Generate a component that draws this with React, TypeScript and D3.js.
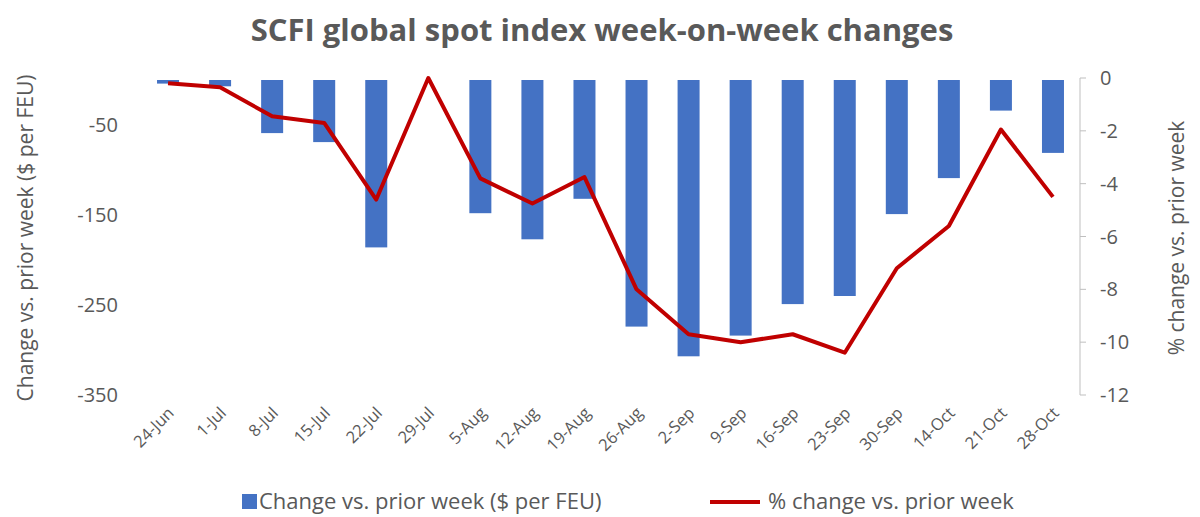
import * as d3 from 'd3';
import React, { useEffect, useRef } from 'react';

const weeks = ['24-Jun', '1-Jul', '8-Jul', '15-Jul', '22-Jul', '29-Jul', '5-Aug', '12-Aug', '19-Aug', '26-Aug', '2-Sep', '9-Sep', '16-Sep', '23-Sep', '30-Sep', '14-Oct', '21-Oct', '28-Oct'];
const changeUsd = [-4, -7, -59, -69, -186, 0, -148, -177, -132, -274, -307, -284, -249, -240, -149, -109, -34, -81];
const changePct = [-0.2, -0.35, -1.45, -1.7, -4.6, 0, -3.8, -4.75, -3.75, -8.0, -9.7, -10.0, -9.7, -10.4, -7.2, -5.6, -1.95, -4.5];
const leftTicks = [-50, -150, -250, -350];
const rightTicks = [0, -2, -4, -6, -8, -10, -12];

const W = 1200;
const H = 517;
const font = '"Open Sans", "Liberation Sans", sans-serif';
const textColor = '#595959';

const App = (): React.JSX.Element => {
  const ref = useRef<SVGSVGElement | null>(null);

  useEffect(() => {
    if (ref.current === null) return;
    const svg = d3.select(ref.current);
    svg.selectAll('*').remove();

    const x = d3.scaleBand().domain(weeks).range([142, 1079]);
    const yL = d3.scaleLinear().domain([-350, 0]).range([395, 80]);
    const yR = d3.scaleLinear().domain([-12, 0]).range([395, 78]);

    svg.append('text')
      .attr('x', 602).attr('y', 41).attr('text-anchor', 'middle')
      .attr('font-family', font).attr('font-size', 31).attr('font-weight', 'bold')
      .attr('fill', textColor).text('SCFI global spot index week-on-week changes');

    // bars
    svg.append('g').selectAll('rect').data(changeUsd).enter().append('rect')
      .attr('x', (_, i) => (x(weeks[i]) ?? 0) + x.bandwidth() / 2 - 11)
      .attr('y', yL(0))
      .attr('width', 22)
      .attr('height', d => yL(d) - yL(0))
      .attr('fill', '#4472C4');

    // line
    const line = d3.line<number>()
      .x((_, i) => (x(weeks[i]) ?? 0) + x.bandwidth() / 2)
      .y(d => yR(d));
    svg.append('path').datum(changePct)
      .attr('d', line).attr('fill', 'none')
      .attr('stroke', '#C00000').attr('stroke-width', 4).attr('stroke-linejoin', 'round');

    // left axis labels
    svg.append('g').selectAll('text').data(leftTicks).enter().append('text')
      .attr('x', 118).attr('y', d => yL(d) + 7).attr('text-anchor', 'end')
      .attr('font-family', font).attr('font-size', 20).attr('fill', textColor)
      .text(d => d);

    // right axis
    const gR = svg.append('g');
    gR.append('line').attr('x1', 1080).attr('x2', 1080).attr('y1', yR(0)).attr('y2', yR(-12))
      .attr('stroke', '#bfbfbf');
    gR.selectAll('line.t').data(rightTicks).enter().append('line').attr('class', 't')
      .attr('x1', 1080).attr('x2', 1086).attr('y1', d => yR(d)).attr('y2', d => yR(d))
      .attr('stroke', '#bfbfbf');
    gR.selectAll('text').data(rightTicks).enter().append('text')
      .attr('x', 1100).attr('y', d => yR(d) + 7)
      .attr('font-family', font).attr('font-size', 20).attr('fill', textColor)
      .text(d => d);

    // x labels
    svg.append('g').selectAll('text').data(weeks).enter().append('text')
      .attr('transform', d => `translate(${(x(d) ?? 0) + x.bandwidth() / 2 + 7},${414}) rotate(-45)`)
      .attr('text-anchor', 'end')
      .attr('font-family', font).attr('font-size', 16.5).attr('fill', textColor)
      .text(d => d);

    // axis titles
    svg.append('text')
      .attr('transform', `translate(33,${238}) rotate(-90)`).attr('text-anchor', 'middle')
      .attr('font-family', font).attr('font-size', 21).attr('fill', textColor)
      .text('Change vs. prior week ($ per FEU)');
    svg.append('text')
      .attr('transform', `translate(1184,${238}) rotate(-90)`).attr('text-anchor', 'middle')
      .attr('font-family', font).attr('font-size', 21).attr('fill', textColor)
      .text('% change vs. prior week');

    // legend
    const lg = svg.append('g');
    lg.append('rect').attr('x', 242).attr('y', 494).attr('width', 15).attr('height', 15).attr('fill', '#4472C4');
    lg.append('text').attr('x', 259).attr('y', 509)
      .attr('font-family', font).attr('font-size', 22).attr('fill', textColor)
      .text('Change vs. prior week ($ per FEU)');
    lg.append('line').attr('x1', 710).attr('x2', 760).attr('y1', 502).attr('y2', 502)
      .attr('stroke', '#C00000').attr('stroke-width', 4);
    lg.append('text').attr('x', 768).attr('y', 509)
      .attr('font-family', font).attr('font-size', 22).attr('fill', textColor)
      .text('% change vs. prior week');
  }, []);

  return <svg ref={ref} width={W} height={H} style={{ display: 'block', position: 'absolute', left: 0, top: 0, background: '#fff' }} />;
};

export default App;
